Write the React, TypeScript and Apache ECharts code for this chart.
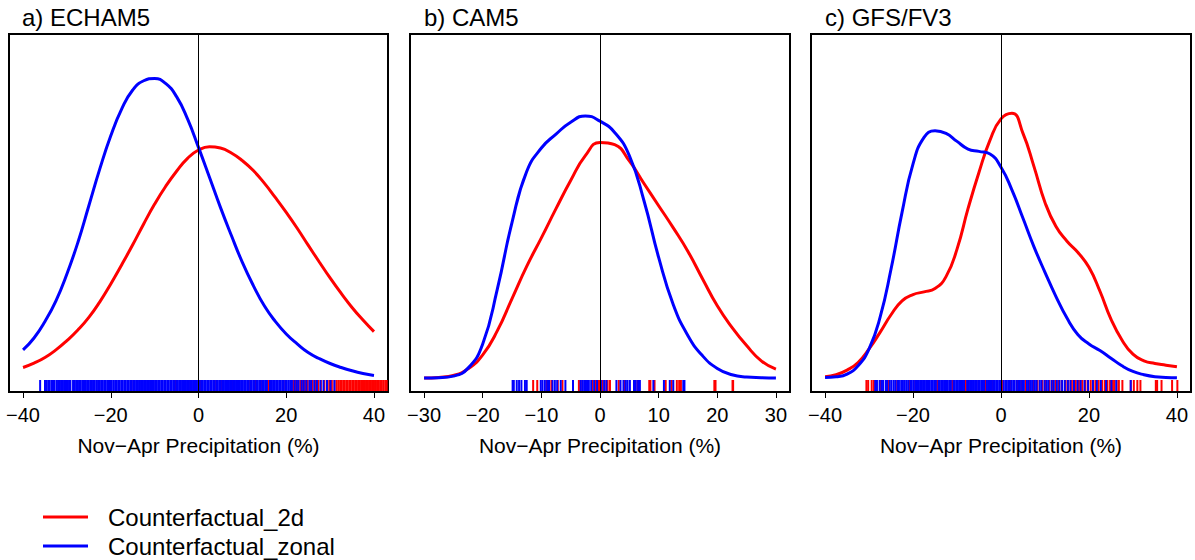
import React, { useEffect, useRef } from "react";
import * as echarts from "echarts";

// ---------- DATA ----------
// Density curves (y scaled to relative density height, 0 = zero density, 1 ≈ plot top)
const ECHAM5_X = [-40, -37.5, -35, -32.5, -30, -27.5, -25, -22.5, -20, -17.5, -15, -12.5, -10, -7.5, -5, -2.5, 0, 2.5, 5, 7.5, 10, 12.5, 15, 17.5, 20, 22.5, 25, 27.5, 30, 32.5, 35, 37.5, 40];
const ECHAM5_2D = [0.034, 0.047, 0.064, 0.087, 0.115, 0.147, 0.185, 0.232, 0.286, 0.344, 0.404, 0.467, 0.527, 0.58, 0.626, 0.665, 0.69, 0.7, 0.696, 0.681, 0.658, 0.628, 0.59, 0.547, 0.502, 0.454, 0.403, 0.353, 0.304, 0.258, 0.215, 0.177, 0.142];
const ECHAM5_ZONAL = [0.087, 0.123, 0.173, 0.235, 0.316, 0.411, 0.522, 0.633, 0.733, 0.814, 0.871, 0.899, 0.906, 0.891, 0.851, 0.784, 0.698, 0.608, 0.517, 0.432, 0.351, 0.281, 0.22, 0.173, 0.135, 0.105, 0.079, 0.061, 0.046, 0.034, 0.024, 0.016, 0.01];

const CAM5_X = [-30, -27.5, -25, -22.5, -20, -17.5, -15, -12.5, -10, -7.5, -5, -2.5, 0, 2.5, 5, 7.5, 10, 12.5, 15, 17.5, 20, 22.5, 25, 27.5, 30];
const CAM5_2D = [0.002, 0.004, 0.01, 0.03, 0.072, 0.145, 0.242, 0.339, 0.425, 0.513, 0.598, 0.673, 0.713, 0.706, 0.657, 0.589, 0.522, 0.455, 0.384, 0.301, 0.22, 0.155, 0.1, 0.054, 0.029];
const CAM5_ZONAL = [0.002, 0.003, 0.008, 0.032, 0.105, 0.271, 0.472, 0.625, 0.696, 0.738, 0.774, 0.793, 0.777, 0.743, 0.673, 0.537, 0.366, 0.223, 0.13, 0.069, 0.031, 0.012, 0.005, 0.003, 0.002];

const GFS_X = [-40, -37.5, -35, -32.5, -30, -27.5, -25, -22.5, -20, -17.5, -15, -12.5, -10, -7.5, -5, -2.5, 0, 2.5, 5, 7.5, 10, 12.5, 15, 17.5, 20, 22.5, 25, 27.5, 30, 32.5, 35, 37.5, 40];
const GFS_2D = [0.006, 0.012, 0.026, 0.049, 0.09, 0.14, 0.193, 0.235, 0.254, 0.262, 0.272, 0.308, 0.391, 0.513, 0.623, 0.72, 0.784, 0.801, 0.74, 0.64, 0.532, 0.459, 0.415, 0.381, 0.336, 0.264, 0.18, 0.117, 0.074, 0.054, 0.046, 0.041, 0.036];
const GFS_ZONAL = [0.004, 0.006, 0.014, 0.039, 0.09, 0.185, 0.331, 0.502, 0.648, 0.728, 0.748, 0.74, 0.716, 0.693, 0.686, 0.678, 0.638, 0.569, 0.484, 0.398, 0.321, 0.248, 0.183, 0.133, 0.105, 0.085, 0.062, 0.039, 0.022, 0.012, 0.006, 0.004, 0.003];

// Rug (individual members, %)
const ECHAM5_RUG_2D = [-14.8, -9.7, -5.2, -2.3, 0.5, 2.2, 3.7, 5.1, 6.4, 7.9, 9.2, 10.6, 11.8, 13.1, 14.5, 15.9, 17.2, 18.6, 19.8, 21.1, 21.6, 22.1, 22.6, 23.2, 23.8, 24.3, 24.9, 25.5, 26.0, 26.7, 27.3, 27.9, 28.6, 29.2, 29.8, 30.4, 31.0, 31.5, 31.9, 32.3, 32.6, 33.0, 33.3, 33.7, 34.0, 34.4, 34.7, 35.1, 35.4, 35.8, 36.1, 36.5, 36.8, 37.2, 37.5, 37.9, 38.2, 38.6, 38.9, 39.3, 39.6, 40.0, 40.3, 40.7, 41.0, 41.4, 41.8, 42.2, 42.6, 42.9];
const ECHAM5_RUG_ZONAL = [-36.1, -35.0, -34.6, -34.2, -33.9, -33.4, -33.1, -32.8, -32.3, -32.0, -31.6, -31.3, -30.9, -30.5, -30.2, -29.8, -29.5, -29.2, -28.6, -28.3, -27.9, -27.5, -27.2, -26.9, -26.5, -26.1, -25.8, -25.4, -25.1, -24.7, -24.3, -24.0, -23.7, -23.3, -22.9, -22.6, -22.2, -21.9, -21.5, -21.2, -20.8, -20.4, -20.1, -19.8, -19.4, -19.0, -18.7, -18.3, -18.0, -17.6, -17.3, -16.9, -16.6, -16.2, -15.9, -15.5, -15.2, -14.8, -14.5, -14.1, -13.8, -13.4, -13.1, -12.7, -12.4, -12.0, -11.7, -11.3, -11.0, -10.6, -10.3, -9.9, -9.6, -9.2, -8.9, -8.5, -8.2, -7.8, -7.5, -7.1, -6.8, -6.4, -6.1, -5.7, -5.4, -5.0, -4.7, -4.3, -4.0, -3.6, -3.3, -2.9, -2.6, -2.2, -1.9, -1.5, -1.2, -0.8, -0.5, -0.1, 0.2, 0.6, 0.9, 1.3, 1.6, 2.0, 2.3, 2.7, 3.0, 3.4, 3.7, 4.1, 4.4, 4.8, 5.1, 5.5, 5.8, 6.2, 6.5, 6.9, 7.2, 7.6, 7.9, 8.3, 8.6, 9.0, 9.3, 9.7, 10.0, 10.4, 10.7, 11.1, 11.4, 11.8, 12.1, 12.5, 12.8, 13.2, 13.5, 13.9, 14.2, 14.6, 14.9, 15.3, 15.6, 16.3, 16.6, 17.0, 17.3, 17.7, 18.0, 18.4, 18.7, 19.1, 19.4, 19.8, 20.1, 20.5, 20.9, 21.3, 21.9, 22.4, 22.8, 23.5, 24.0, 24.6, 25.3, 25.7, 26.4, 27.0, 27.8, 28.5, 29.3, 30.1, 31.0];

const CAM5_RUG_2D = [-11.4, -10.7, -9.1, -8.3, -7.2, -6.4, -3.6, -3.3, -1.3, -0.7, -0.3, 0.0, 0.4, 0.8, 1.3, 1.7, 3.2, 4.2, 5.9, 6.4, 8.4, 8.6, 9.3, 11.2, 12.2, 13.1, 13.5, 13.8, 19.5, 19.7, 22.6, 22.7];
const CAM5_RUG_ZONAL = [-14.9, -14.7, -14.2, -13.8, -13.4, -12.8, -12.5, -10.1, -9.8, -9.4, -9.0, -8.7, -8.1, -7.7, -7.3, -6.7, -5.9, -4.6, -3.3, -3.0, -2.7, -2.4, -2.2, -1.9, -1.5, -1.0, -0.5, 0.2, 0.7, 1.1, 2.8, 3.5, 4.0, 4.4, 4.7, 5.1, 5.8, 6.1, 6.5, 6.8, 9.1, 10.9, 11.9, 12.5, 14.2, 14.4];

const GFS_RUG_2D = [-30.6, -30.2, -29.4, -28.9, -27.3, -25.5, -23.6, -20.9, -19.5, -18.2, -14.5, -11.1, -8.0, -5.6, -3.5, -1.9, -0.9, 0.3, 1.2, 2.1, 3.0, 3.8, 4.6, 5.6, 6.5, 7.4, 8.3, 9.4, 10.2, 11.0, 11.7, 12.4, 13.1, 13.8, 14.7, 15.3, 15.9, 16.4, 17.0, 17.7, 18.1, 18.5, 19.2, 19.8, 20.4, 21.0, 21.5, 22.2, 23.0, 23.6, 24.2, 24.8, 25.3, 25.7, 26.3, 26.8, 27.6, 29.5, 30.2, 31.0, 31.7, 35.2, 35.5, 36.5, 38.9, 40.1];
const GFS_RUG_ZONAL = [-28.6, -28.2, -27.6, -27.1, -26.8, -26.2, -25.9, -25.3, -24.9, -24.4, -24.0, -23.5, -23.2, -22.7, -22.3, -21.9, -21.5, -21.1, -20.6, -20.3, -19.9, -19.5, -19.1, -18.8, -18.4, -18.0, -17.7, -17.3, -16.9, -16.6, -16.2, -15.8, -15.5, -15.1, -14.8, -14.2, -13.9, -13.5, -13.2, -12.8, -12.5, -12.1, -11.7, -11.4, -10.8, -10.5, -10.1, -9.8, -9.4, -9.1, -8.7, -8.4, -7.7, -7.3, -7.0, -6.6, -6.3, -5.9, -5.6, -5.2, -4.9, -4.5, -4.1, -3.8, -3.2, -2.9, -2.5, -2.2, -1.8, -1.5, -1.1, -0.8, -0.4, -0.1, 0.6, 1.0, 1.3, 1.7, 2.0, 2.4, 2.8, 3.1, 3.6, 4.0, 4.3, 4.8, 5.2, 5.9, 6.3, 6.8, 7.2, 7.7, 8.1, 8.8, 9.2, 9.9, 10.4, 10.8, 11.5, 12.0, 12.7, 13.3, 13.9, 14.5, 15.2, 15.8, 16.6, 17.4, 18.1, 19.0, 19.8, 20.9, 21.8, 22.7, 23.9, 25.1, 26.2, 29.5];

const TICKS_40 = [-40, -20, 0, 20, 40];
const TICKS_30 = [-30, -20, -10, 0, 10, 20, 30];

const TITLES = ["a) ECHAM5", "b) CAM5", "c) GFS/FV3"];
const SERIES_NAMES = ["Counterfactual_2d", "Counterfactual_zonal"];
const X_AXIS_NAME = "Nov\u2212Apr Precipitation (%)";

// ---------- LAYOUT / STYLE ----------
const FONT = '"Liberation Sans", Arial, Helvetica, sans-serif';
const RED = "#ff0000";
const BLUE = "#0000ff";
const Y_MIN = -0.04;
const Y_MAX = 1.04;

const PANELS = [
  { title: TITLES[0], x: ECHAM5_X, d2: ECHAM5_2D, zonal: ECHAM5_ZONAL, rug2d: ECHAM5_RUG_2D, rugZonal: ECHAM5_RUG_ZONAL, ticks: TICKS_40, lim: 43.2, left: 9, width: 379, titleX: 22 },
  { title: TITLES[1], x: CAM5_X, d2: CAM5_2D, zonal: CAM5_ZONAL, rug2d: CAM5_RUG_2D, rugZonal: CAM5_RUG_ZONAL, ticks: TICKS_30, lim: 32.4, left: 410, width: 380, titleX: 424 },
  { title: TITLES[2], x: GFS_X, d2: GFS_2D, zonal: GFS_ZONAL, rug2d: GFS_RUG_2D, rugZonal: GFS_RUG_ZONAL, ticks: TICKS_40, lim: 43.2, left: 811, width: 380, titleX: 825 },
];

const minusFmt = (v: number) => String(v).replace("-", "\u2212");

function rugSeries(values: number[], color: string, idx: number, name: string) {
  return {
    type: "custom",
    name,
    xAxisIndex: idx,
    yAxisIndex: idx,
    silent: true,
    data: values.map((v) => [v]),
    encode: { x: 0 },
    renderItem: (_params: any, api: any) => {
      const p = api.coord([api.value(0), Y_MIN]);
      return {
        type: "line",
        shape: { x1: p[0], y1: p[1] - 1, x2: p[0], y2: p[1] - 12 },
        style: { stroke: color, lineWidth: 2 },
      };
    },
  };
}

export default function App() {
  const ref = useRef<HTMLDivElement>(null);

  useEffect(() => {
    if (!ref.current) return;
    const chart = echarts.init(ref.current, null, { renderer: "svg" });

    const grid = PANELS.map((p) => ({
      left: p.left,
      top: 34,
      width: p.width,
      height: 358,
      show: true,
      borderColor: "#000",
      borderWidth: 2,
      backgroundColor: "transparent",
    }));

    const xAxis = PANELS.map((p, i) => ({
      type: "value",
      gridIndex: i,
      min: -p.lim,
      max: p.lim,
      axisLine: { show: false, onZero: false },
      splitLine: { show: false },
      minorTick: { show: false },
      axisTick: { show: true, inside: false, length: 6, lineStyle: { color: "#000", width: 1 }, customValues: p.ticks },
      axisLabel: {
        customValues: p.ticks,
        formatter: minusFmt,
        fontSize: 20,
        color: "#000",
        fontFamily: FONT,
        margin: 13,
      },
      name: X_AXIS_NAME,
      nameLocation: "middle",
      nameGap: 43,
      nameTextStyle: { fontSize: 21, color: "#000", fontFamily: FONT },
    }));

    const yAxis = PANELS.map((_p, i) => ({
      type: "value",
      gridIndex: i,
      min: Y_MIN,
      max: Y_MAX,
      show: false,
    }));

    const series: any[] = [];
    PANELS.forEach((p, i) => {
      series.push({
        type: "line",
        name: SERIES_NAMES[0],
        xAxisIndex: i,
        yAxisIndex: i,
        data: p.x.map((x, k) => [x, p.d2[k]]),
        smooth: 0.5,
        showSymbol: false,
        color: RED,
        lineStyle: { color: RED, width: 3 },
      });
      series.push({
        type: "line",
        name: SERIES_NAMES[1],
        xAxisIndex: i,
        yAxisIndex: i,
        data: p.x.map((x, k) => [x, p.zonal[k]]),
        smooth: 0.5,
        showSymbol: false,
        color: BLUE,
        lineStyle: { color: BLUE, width: 3 },
        markLine: {
          silent: true,
          symbol: ["none", "none"],
          label: { show: false },
          lineStyle: { color: "#000", width: 1, type: "solid" },
          data: [{ xAxis: 0 }],
        },
      });
      series.push(rugSeries(p.rug2d, RED, i, "rug_2d_" + i));
      series.push(rugSeries(p.rugZonal, BLUE, i, "rug_zonal_" + i));
    });

    chart.setOption({
      animation: false,
      backgroundColor: "#fff",
      grid,
      xAxis,
      yAxis,
      series,
      legend: {
        orient: "vertical",
        left: 43,
        top: 505,
        height: 60,
        padding: 0,
        itemWidth: 45,
        itemHeight: 3,
        itemGap: 5,
        selectedMode: false,
        textStyle: { fontSize: 24, color: "#000", fontFamily: FONT, padding: [0, 0, 0, 15] },
        data: [
          { name: SERIES_NAMES[0], icon: "rect" },
          { name: SERIES_NAMES[1], icon: "rect" },
        ],
      },
      graphic: PANELS.map((p) => ({
        type: "text",
        left: p.titleX,
        top: 5,
        style: { text: p.title, fontSize: 24, fill: "#000", fontFamily: FONT },
      })),
    });

    return () => chart.dispose();
  }, []);

  return (
    <div
      ref={ref}
      style={{ position: "absolute", left: 0, top: 0, width: 1195, height: 560, background: "#fff" }}
    />
  );
}
